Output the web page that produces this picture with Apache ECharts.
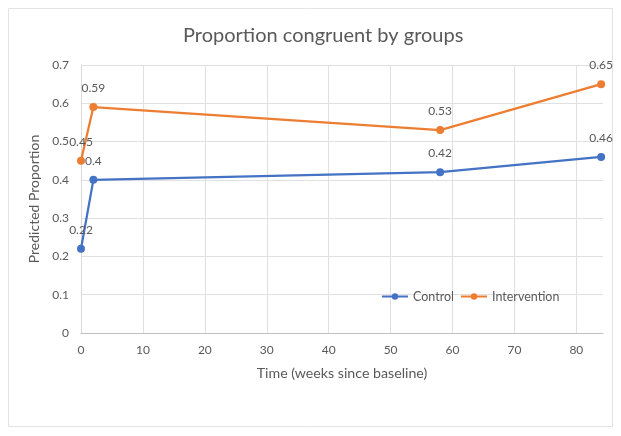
<!DOCTYPE html>
<html><head><meta charset="utf-8">
<script src="https://cdn.jsdelivr.net/npm/echarts@6/dist/echarts.min.js"></script>
<style>html,body{margin:0;padding:0;background:#fff}#c{width:621px;height:436px}</style>
</head><body><div id="c"></div>
<script>
var weeks = [0, 2, 58, 84];
var controlValues = [0.22, 0.40, 0.42, 0.46];
var interventionValues = [0.45, 0.59, 0.53, 0.65];
var seriesNames = ['Control', 'Intervention'];
var xTicks = [0, 10, 20, 30, 40, 50, 60, 70, 80];
var yTicks = [0, 0.1, 0.2, 0.3, 0.4, 0.5, 0.6, 0.7];

function pairs(xs, ys) { return xs.map(function (x, i) { return [x, ys[i]]; }); }
var font = 'Lato, "Open Sans", sans-serif';
var chart = echarts.init(document.getElementById('c'));
var lbl = { show: true, position: 'top', distance: 9, color: '#595959', fontSize: 12, fontFamily: font,
  formatter: function (p) { return String(p.value[1]); } };
chart.setOption({
  animation: false,
  backgroundColor: '#fff',
  graphic: [{ type: 'rect', shape: { x: 8.5, y: 8.5, width: 604, height: 418 }, style: { fill: 'none', stroke: '#e3e3e3', lineWidth: 1 }, silent: true }],
  title: { text: 'Proportion congruent by groups', left: 178, top: 21,
    textStyle: { color: '#595959', fontSize: 20, fontWeight: 'normal', fontFamily: font } },
  legend: { data: seriesNames, left: 376, top: 285, itemWidth: 26, itemHeight: 8, itemGap: 6,
    textStyle: { color: '#595959', fontSize: 12.5, fontFamily: font } },
  grid: { left: 81, top: 65, width: 522, height: 268, containLabel: false },
  xAxis: { type: 'value', min: 0, max: 84.3, interval: 10,
    name: 'Time (weeks since baseline)', nameLocation: 'middle', nameGap: 33,
    nameTextStyle: { color: '#595959', fontSize: 14.2, fontFamily: font },
    axisLine: { show: true, lineStyle: { color: '#bfbfbf' } },
    axisTick: { show: false },
    axisLabel: { color: '#595959', fontSize: 12, fontFamily: font, margin: 11, showMaxLabel: false,
      formatter: function (v) { return xTicks.indexOf(v) >= 0 ? String(v) : ''; } },
    splitLine: { show: true, showMaxLine: false, lineStyle: { color: '#e0e0e0' } } },
  yAxis: { type: 'value', min: 0, max: 0.7, interval: 0.1,
    name: 'Predicted Proportion', nameLocation: 'middle', nameGap: 34,
    nameTextStyle: { color: '#595959', fontSize: 14, fontFamily: font },
    axisLine: { show: true, lineStyle: { color: '#d9d9d9' } },
    axisTick: { show: false },
    axisLabel: { color: '#595959', fontSize: 12, fontFamily: font, margin: 12,
      formatter: function (v) { var r = Math.round(v * 10) / 10; return yTicks.indexOf(r) >= 0 ? String(r) : ''; } },
    splitLine: { show: true, lineStyle: { color: '#e0e0e0' } } },
  series: [
    { name: seriesNames[0], type: 'line', data: pairs(weeks, controlValues), color: '#4472C4',
      symbol: 'circle', symbolSize: 8, lineStyle: { width: 2.25 }, label: lbl, z: 3 },
    { name: seriesNames[1], type: 'line', data: pairs(weeks, interventionValues), color: '#ED7D31',
      symbol: 'circle', symbolSize: 8, lineStyle: { width: 2.25 }, label: lbl, z: 2 }
  ]
});
</script></body></html>
